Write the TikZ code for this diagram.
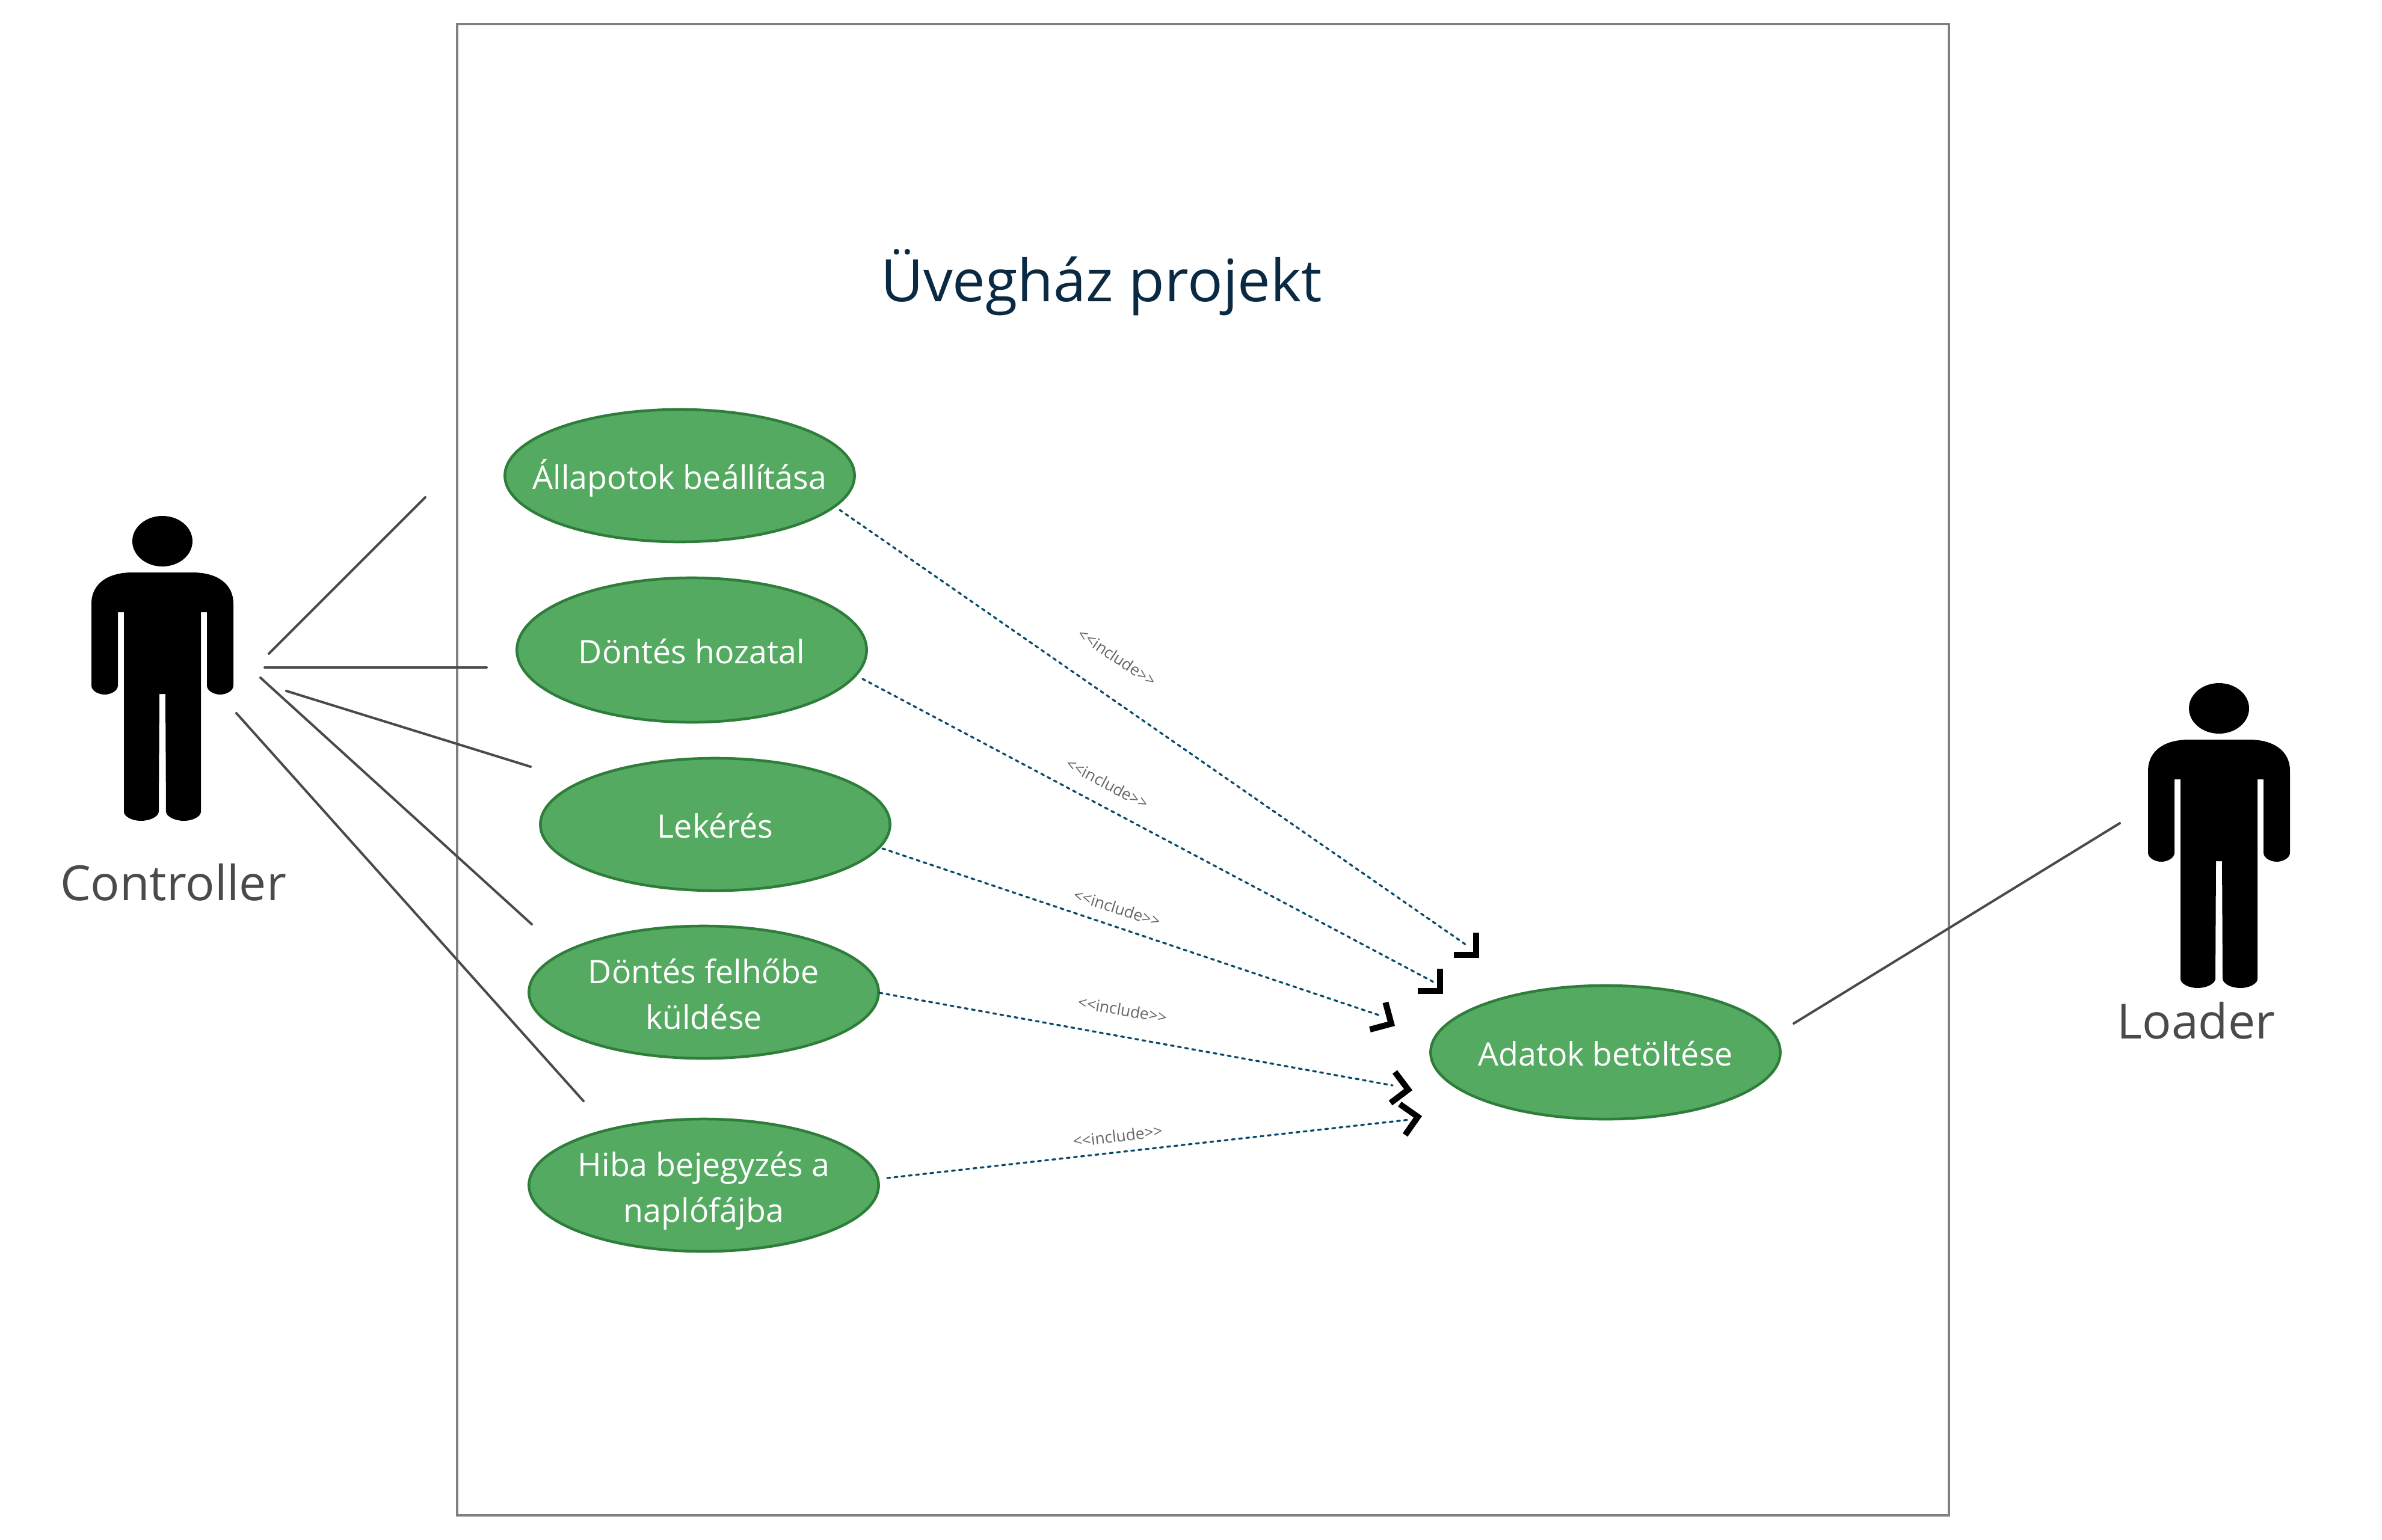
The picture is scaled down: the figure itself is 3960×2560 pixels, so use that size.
\documentclass[tikz,border=0pt]{standalone}
\usepackage{xcolor}
\usepackage{fontspec}
\setmainfont{Open Sans}
\usetikzlibrary{shapes.geometric}
\definecolor{usecasefill}{HTML}{54AA61}
\definecolor{usecaseline}{HTML}{2E7D3A}
\definecolor{includeline}{HTML}{0B4A6B}
\definecolor{titlecolor}{HTML}{0A2A43}
\definecolor{actorcolor}{HTML}{4A4A4A}
\newcommand{\inctext}{{<}{<}include{>}{>}}
\newcommand{\toprule}{\rule{0pt}{16.9pt}}
\tikzset{
  usecase/.style={draw=usecaseline,fill=usecasefill,line width=0.045cm,ellipse,inner xsep=-1cm,inner ysep=-0.5cm,
    minimum width=5.81cm,text=white,align=center,font=\fontsize{15.3}{21.5}\selectfont,
    execute at begin node=\rule{0pt}{16.5pt},execute at end node=\rule[-3.5pt]{0pt}{3.5pt}},
  assoc/.style={draw=actorcolor,line width=0.04cm,line cap=round},
  includedep/.style={draw=includeline,line width=0.033cm,line cap=round,dash pattern=on 0.05cm off 0.07cm},
  includetext/.style={text=black!60,font=\fontsize{7.5}{9}\selectfont,inner sep=0pt},
  actortext/.style={text=actorcolor,font=\fontsize{22.9}{27}\selectfont,inner sep=0pt},
  opentip/.pic={
    \draw[black,line width=0.1cm,miter limit=10] (-33,-26) -- (-7,0) -- (-33,26);
  },
  actorfig/.pic={
    \fill[black] (0,42) ellipse (50 and 42);
    \foreach \sd in {1,-1}
      \fill[black,xscale=\sd] (-1,94) -- (50,94) .. controls (90,94) and (118,112) .. (118,146)
        -- (118,282) .. controls (118,291) and (106,297) .. (96,297)
        .. controls (86,297) and (74,291) .. (74,282) -- (74,160) -- (64,160) -- (64,492)
        .. controls (64,500) and (50,507) .. (36,507) .. controls (20,507) and (7,500) .. (6,492)
        -- (5,296) -- (-1,296) -- cycle;
  }
}
\begin{document}
\begin{tikzpicture}[x=0.01cm,y=-0.01cm]
  \useasboundingbox (0,0) rectangle (3960,2560);
  \draw[draw=black!50,line width=0.04cm] (760,40) rectangle (3240,2520);
  \node[text=titlecolor,font=\fontsize{27.7}{33}\selectfont,inner sep=0pt] (title) at (1831,470) {Üvegház projekt};
  % use cases
  \node[usecase,minimum height=2.20cm] (allapot) at (1130,791) {Állapotok beállítása};
  \node[usecase,minimum height=2.40cm] (dontes) at (1150,1081) {Döntés hozatal};
  \node[usecase,minimum height=2.20cm] (lekeres) at (1189,1371) {Lekérés};
  \node[usecase,minimum height=2.20cm] (felho) at (1170,1650) {\toprule Döntés felhőbe\\küldése};
  \node[usecase,minimum height=2.20cm] (hiba) at (1170,1971) {\toprule Hiba bejegyzés a\\naplófájba};
  \node[usecase,minimum height=2.22cm] (adatok) at (2669,1750) {Adatok betöltése};
  % actors
  \pic at (270,858) {actorfig};
  \pic at (3689,1136) {actorfig};
  \node[actortext] (controller) at (288,1467) {Controller};
  \node[actortext] (loader) at (3651,1697) {Loader};
  % free ends of the actor lines
  \coordinate (ca1) at (447,1087);
  \coordinate (ca2) at (707,827);
  \coordinate (cb1) at (440,1110);
  \coordinate (cb2) at (809,1110);
  \coordinate (cc1) at (476,1149);
  \coordinate (cc2) at (882,1275);
  \coordinate (cd1) at (433,1127);
  \coordinate (cd2) at (884,1537);
  \coordinate (ce1) at (393,1186);
  \coordinate (ce2) at (970,1831);
  \coordinate (la1) at (2982,1702);
  \coordinate (la2) at (3524,1369);
  \draw[assoc] (ca1) -- (ca2);
  \draw[assoc] (cb1) -- (cb2);
  \draw[assoc] (cc1) -- (cc2);
  \draw[assoc] (cd1) -- (cd2);
  \draw[assoc] (ce1) -- (ce2);
  \draw[assoc] (la1) -- (la2);
  % include lines
  \coordinate (ia1) at (1396,848);
  \coordinate (ia2) at (2437,1571);
  \coordinate (ib1) at (1434,1129);
  \coordinate (ib2) at (2385,1634);
  \coordinate (ic1) at (1467,1411);
  \coordinate (ic2) at (2295,1689);
  \coordinate (id1) at (1462,1651);
  \coordinate (id2) at (2315,1805);
  \coordinate (ie1) at (1475,1959);
  \coordinate (ie2) at (2343,1862);
  \draw[includedep] (ia1) -- (ia2);
  \draw[includedep] (ib1) -- (ib2);
  \draw[includedep] (ic1) -- (ic2);
  \draw[includedep] (id1) -- (id2);
  \draw[includedep] (ie1) -- (ie2);
  \pic[rotate=-45] at (2459,1593) {opentip};
  \pic[rotate=-45] at (2399,1653) {opentip};
  \pic[rotate=-30] at (2319,1706) {opentip};
  \pic[rotate=-8] at (2348,1813) {opentip};
  \pic[rotate=10] at (2364,1856) {opentip};
  \node[includetext,rotate=-34] (inca) at (1857,1093) {\inctext};
  \node[includetext,rotate=-28] (incb) at (1841,1303) {\inctext};
  \node[includetext,rotate=-18] (incc) at (1857,1510) {\inctext};
  \node[includetext,rotate=-10] (incd) at (1866,1679) {\inctext};
  \node[includetext,rotate=7] (ince) at (1858,1889) {\inctext};
\end{tikzpicture}
\end{document}
